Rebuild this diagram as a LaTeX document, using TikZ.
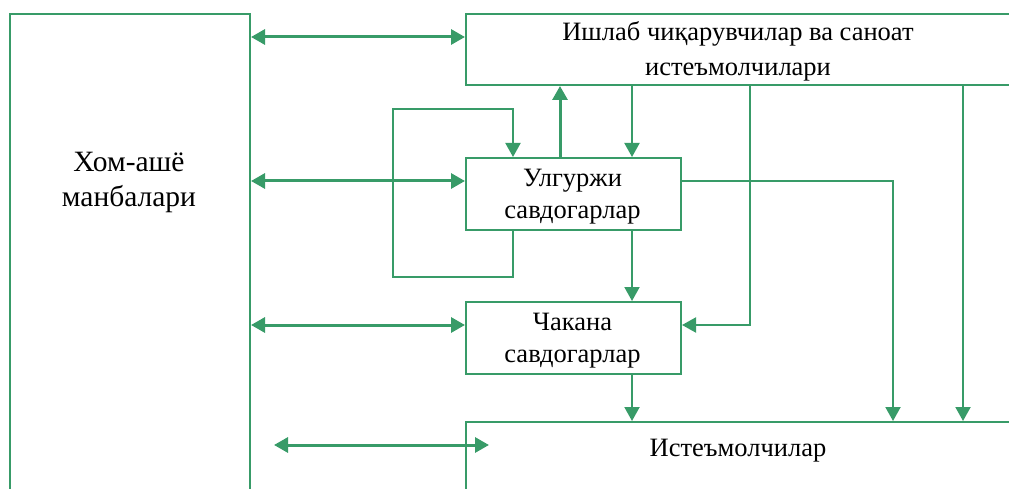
\documentclass[tikz,border=0pt]{standalone}
\usepackage{fontspec}
\setmainfont{Liberation Serif}
\usetikzlibrary{arrows.meta}
\definecolor{gr}{RGB}{56,155,104}
\begin{document}
\begin{tikzpicture}[x=1pt,y=-1pt,
  box/.style={draw=gr, line width=2pt, inner sep=0pt, anchor=north west},
  txt/.style={font=\fontsize{26.5}{35}\selectfont, align=center, inner sep=0pt},
  con/.style={draw=gr, line width=2pt, -{Triangle[length=14pt,width=15pt]}},
  dbl/.style={draw=gr, line width=3pt, {Triangle[length=14pt,width=15pt]}-{Triangle[length=14pt,width=15pt]}},
]
\useasboundingbox (0,0) rectangle (1009,489);
\clip (0,0) rectangle (1009,489);
% boxes
\node[box, minimum width=240pt, minimum height=520pt] (src) at (9,13) {};
\node[txt, font=\fontsize{29.5}{35}\selectfont] (srct) at (129,182) {Хом-ашё\\манбалари};
\node[box, minimum width=546pt, minimum height=71pt] (prod) at (465,13) {};
\node[txt] (prodt) at (738,51.5) {Ишлаб чиқарувчилар ва саноат\\истеъмолчилари};
\node[box, minimum width=215pt, minimum height=72pt] (whole) at (465,157) {};
\node[txt, font=\fontsize{26.5}{32}\selectfont] (wholet) at (572.5,197) {Улгуржи\\савдогарлар};
\node[box, minimum width=215pt, minimum height=72pt] (retail) at (465,301) {};
\node[txt, font=\fontsize{26.5}{32}\selectfont] (retailt) at (572.5,340.5) {Чакана\\савдогарлар};
\node[box, minimum width=546pt, minimum height=100pt] (cons) at (465,421) {};
\node[txt] (const) at (738,451) {Истеъмолчилар};
% free ends
\coordinate (l4) at (274,445);
\coordinate (r4) at (489,445);
% connectors
\draw[dbl] (src.east |- 0,37) -- (prod.west |- 0,37);
\draw[dbl] (src.east |- 0,181) -- (whole.west |- 0,181);
\draw[dbl] (src.east |- 0,325) -- (retail.west |- 0,325);
\draw[dbl] (l4) -- (r4);
\draw[con] (whole.south -| 513,0) -- (513,277) -- (393,277) -- (393,109) -- (513,109) -- (whole.north -| 513,0);
\draw[con, line width=3pt] (whole.north -| 560,0) -- (prod.south -| 560,0);
\draw[con] (prod.south -| 632,0) -- (whole.north -| 632,0);
\draw[con] (prod.south -| 750,0) -- (750,325) -- (retail.east |- 0,325);
\draw[con] (whole.east |- 0,181) -- (893,181) -- (cons.north -| 893,0);
\draw[con] (prod.south -| 963,0) -- (cons.north -| 963,0);
\draw[con] (whole.south -| 632,0) -- (retail.north -| 632,0);
\draw[con] (retail.south -| 632,0) -- (cons.north -| 632,0);
\end{tikzpicture}
\end{document}
